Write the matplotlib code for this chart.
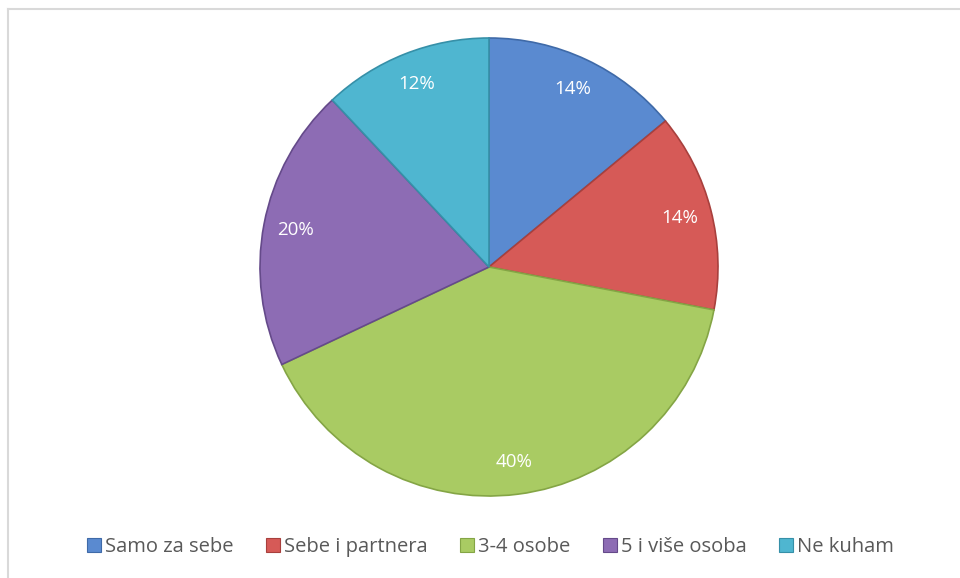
import matplotlib as mpl
mpl.use('Agg')
from matplotlib import pyplot as plt
from matplotlib.lines import Line2D
from matplotlib.patches import Patch

categories = ['Samo za sebe', 'Sebe i partnera', '3-4 osobe', '5 i više osoba', 'Ne kuham']
shares = [14, 14, 40, 20, 12]
colors = ['#5A8AD0', '#D65A57', '#A9CB63', '#8D6CB4', '#4FB6D0']
edges = ['#3F6AA8', '#A8403D', '#84A545', '#654A8A', '#3690A8']

plt.rcParams['font.family'] = ['Open Sans', 'DejaVu Sans']

fig = plt.figure(figsize=(9.6, 5.78), dpi=100)

# light frame (only left and top visible in the original)
fig.add_artist(Line2D([8/960, 8/960], [0, 1 - 9/578], color='#d9d9d9', lw=1.5))
fig.add_artist(Line2D([8/960, 1], [1 - 9/578, 1 - 9/578], color='#d9d9d9', lw=1.5))

cx, cy, r = 489/960, 1 - 267/578, 229
w, h = r/960, r/578
ax = fig.add_axes([cx - w, cy - h, 2*w, 2*h])

wedges, texts, autotexts = ax.pie(shares, colors=colors, startangle=90, counterclock=False,
                                  radius=1, autopct='%1.0f%%', pctdistance=0.86,
                                  wedgeprops=dict(linewidth=1.2),
                                  textprops=dict(color='white', fontsize=13.5))
for wdg, ec in zip(wedges, edges):
    wdg.set_edgecolor(ec)
ax.set_xlim(-1, 1)
ax.set_ylim(-1, 1)
ax.set_aspect('equal')
ax.axis('off')

handles = [Patch(facecolor=c, edgecolor=e, linewidth=0.8) for c, e in zip(colors, edges)]
leg = fig.legend(handles, categories, loc='center', bbox_to_anchor=(0.511, 1 - 547/578),
                 ncol=5, frameon=False, fontsize=14.5, handlelength=0.7, handleheight=0.7,
                 handletextpad=0.2, columnspacing=1.6)
for t in leg.get_texts():
    t.set_color('#595959')

plt.savefig('out.png', dpi=100)
plt.close()
